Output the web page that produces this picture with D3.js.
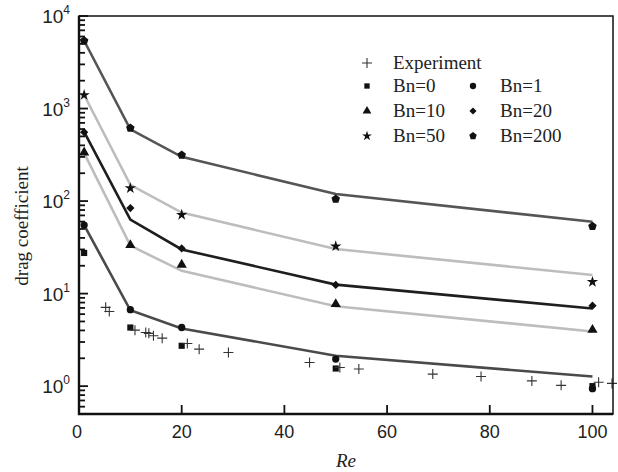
<!DOCTYPE html>
<html>
<head>
<meta charset="utf-8">
<script src="https://cdn.jsdelivr.net/npm/d3@7"></script>
<style>
  body { margin: 0; background: #fff; }
  svg { display: block; }
</style>
</head>
<body>
<svg id="chart"></svg>
<script>
var w = 618;
var h = 472;

// simulated Re values
var reSim = [1, 10, 20, 50, 100];

// fitted curves (lines)
var fitBn1 = [55, 6.6, 4.2, 2.13, 1.27];
var fitBn10 = [330, 33, 17.6, 7.3, 3.9];
var fitBn20 = [560, 63, 30, 12.5, 6.9];
var fitBn50 = [1400, 150, 75, 30.3, 15.9];
var fitBn200 = [5400, 595, 301, 119, 59.7];

// simulated drag coefficients (markers)
var cdBn0 = [27.5, 4.3, 2.73, 1.55, 1.0];
var cdBn1 = [55, 6.7, 4.3, 1.96, 0.94];
var cdBn10 = [335, 33.5, 20.5, 7.7, 4.06];
var cdBn20 = [555, 84, 30.8, 12.4, 7.4];
var cdBn50 = [1400, 138, 71, 32.5, 13.4];
var cdBn200 = [5400, 615, 314, 105, 53.3];

// experiment
var expRe = [5.2, 5.9, 10.9, 13.0, 13.6, 14.5, 16.2, 21.1, 23.4, 29.1, 44.9, 50.8, 54.5, 68.9, 78.3, 88.2, 93.9, 101.2, 103.8];
var expCd = [7.1, 6.4, 4.03, 3.8, 3.72, 3.5, 3.3, 2.89, 2.51, 2.31, 1.80, 1.59, 1.53, 1.35, 1.27, 1.14, 1.02, 1.10, 1.07];

var seriesNames = ['Bn=0', 'Bn=1', 'Bn=10', 'Bn=20', 'Bn=50', 'Bn=200'];
var xTicks = [0, 20, 40, 60, 80, 100];
var yExps = [0, 1, 2, 3, 4];

var pentagon = {
  draw: function (ctx, size) {
    var r = Math.sqrt(size / 2.38);
    for (var i = 0; i < 5; i++) {
      var a = -Math.PI / 2 + i * 2 * Math.PI / 5;
      if (i === 0) ctx.moveTo(r * Math.cos(a), r * Math.sin(a));
      else ctx.lineTo(r * Math.cos(a), r * Math.sin(a));
    }
    ctx.closePath();
  }
};

var markers = [
  {name: seriesNames[0], vals: cdBn0, type: d3.symbolSquare, size: 38, rot: 0},
  {name: seriesNames[1], vals: cdBn1, type: d3.symbolCircle, size: 42, rot: 0},
  {name: seriesNames[2], vals: cdBn10, type: d3.symbolTriangle, size: 45, rot: 0},
  {name: seriesNames[3], vals: cdBn20, type: d3.symbolSquare, size: 34, rot: 45},
  {name: seriesNames[4], vals: cdBn50, type: d3.symbolStar, size: 40, rot: 0},
  {name: seriesNames[5], vals: cdBn200, type: pentagon, size: 48, rot: 0}
];

var lines = [
  {vals: fitBn1, color: '#4a4a4a'},
  {vals: fitBn10, color: '#bdbdbd'},
  {vals: fitBn20, color: '#1e1e1e'},
  {vals: fitBn50, color: '#bdbdbd'},
  {vals: fitBn200, color: '#555555'}
];

var pL = 79, pR = 613, pT = 16, pB = 414;

var x = d3.scaleLinear().domain([0, 104]).range([pL, pR]);
var y = d3.scaleLog().domain([0.5, 10000]).range([pB, pT]);

var svg = d3.select('#chart').attr('width', w).attr('height', h);

// Lines
var line = d3.line()
  .x(function (d, i) { return x(reSim[i]); })
  .y(function (d) { return y(d); });

svg.selectAll('path.fit')
  .data(lines)
  .enter()
  .append('path')
  .attr('class', 'fit')
  .attr('d', function (d) { return line(d.vals); })
  .attr('fill', 'none')
  .attr('stroke', function (d) { return d.color; })
  .attr('stroke-width', 2.6);

// Markers
markers.forEach(function (m) {
  svg.selectAll(null)
    .data(m.vals)
    .enter()
    .append('path')
    .attr('d', d3.symbol().type(m.type).size(m.size))
    .attr('transform', function (d, i) {
      return 'translate(' + x(reSim[i]) + ',' + y(d) + ') rotate(' + m.rot + ')';
    })
    .attr('fill', '#111');
});

// Experiment crosses
var cross = 'M-5,0H5M0,-5V5';
svg.selectAll('path.exp')
  .data(expCd)
  .enter()
  .append('path')
  .attr('class', 'exp')
  .attr('d', cross)
  .attr('transform', function (d, i) {
    return 'translate(' + x(expRe[i]) + ',' + y(d) + ')';
  })
  .attr('stroke', '#333')
  .attr('stroke-width', 1.1)
  .attr('fill', 'none');

// Frame
svg.append('rect')
  .attr('x', pL).attr('y', pT)
  .attr('width', pR - pL).attr('height', pB - pT)
  .attr('fill', 'none').attr('stroke', '#111').attr('stroke-width', 1.5);
svg.append('path')
  .attr('d', 'M' + pL + ',' + pT + 'V' + pB + 'H' + pR)
  .attr('fill', 'none').attr('stroke', '#111').attr('stroke-width', 2.4);

// Y ticks (inside)
var yTickVals = [];
[0.5, 0.6, 0.7, 0.8, 0.9].forEach(function (v) { yTickVals.push({v: v, major: false}); });
yExps.forEach(function (e) {
  var base = Math.pow(10, e);
  yTickVals.push({v: base, major: true});
  if (e < 4) {
    for (var k = 2; k <= 9; k++) yTickVals.push({v: k * base, major: false});
  }
});
svg.selectAll('line.ytick')
  .data(yTickVals)
  .enter()
  .append('line')
  .attr('x1', pL)
  .attr('x2', function (d) { return pL + (d.major ? 9 : 6); })
  .attr('y1', function (d) { return y(d.v); })
  .attr('y2', function (d) { return y(d.v); })
  .attr('stroke', '#111')
  .attr('stroke-width', 1.8);

// Y tick labels
var yl = svg.selectAll('text.ylab')
  .data(yExps)
  .enter()
  .append('text')
  .attr('x', 70)
  .attr('y', function (d) { return y(Math.pow(10, d)) + 7; })
  .attr('text-anchor', 'end')
  .attr('font-family', 'Liberation Sans, Arial, sans-serif')
  .attr('font-size', '19px')
  .attr('fill', '#222');
yl.append('tspan').text('10');
yl.append('tspan')
  .attr('dy', -9)
  .attr('font-size', '12px')
  .text(function (d) { return d; });

// X ticks (inside)
svg.selectAll('line.xtick')
  .data(xTicks.slice(1))
  .enter()
  .append('line')
  .attr('x1', function (d) { return x(d); })
  .attr('x2', function (d) { return x(d); })
  .attr('y1', pB)
  .attr('y2', pB - 9)
  .attr('stroke', '#111')
  .attr('stroke-width', 1.8);

svg.selectAll('text.xlab')
  .data(xTicks)
  .enter()
  .append('text')
  .attr('x', function (d) { return x(d) - (d === 0 ? 2 : 0); })
  .attr('y', 438)
  .attr('text-anchor', 'middle')
  .attr('font-family', 'Liberation Sans, Arial, sans-serif')
  .attr('font-size', '18px')
  .attr('fill', '#222')
  .text(function (d) { return d; });

// Axis titles
svg.append('text')
  .attr('x', (pL + pR) / 2)
  .attr('y', 467)
  .attr('text-anchor', 'middle')
  .attr('font-family', 'Liberation Serif, Times New Roman, serif')
  .attr('font-style', 'italic')
  .attr('font-size', '19px')
  .attr('fill', '#222')
  .text('Re');

svg.append('text')
  .attr('transform', 'translate(28,226) rotate(-90)')
  .attr('text-anchor', 'middle')
  .attr('font-family', 'Liberation Serif, Times New Roman, serif')
  .attr('font-size', '19px')
  .attr('fill', '#222')
  .text('drag coefficient');

// Legend
var lg = svg.append('g');
var rowY = [63, 86, 111, 136];
lg.append('path')
  .attr('d', cross)
  .attr('transform', 'translate(367,' + rowY[0] + ')')
  .attr('stroke', '#333').attr('stroke-width', 1.1);
lg.append('text')
  .attr('x', 393).attr('y', rowY[0] + 6)
  .attr('font-family', 'Liberation Serif, Times New Roman, serif')
  .attr('font-size', '19px').attr('fill', '#222')
  .text('Experiment');

markers.forEach(function (m, i) {
  var col = i % 2, row = Math.floor(i / 2) + 1;
  var mx = col === 0 ? 367 : 473;
  var tx = col === 0 ? 393 : 500;
  lg.append('path')
    .attr('d', d3.symbol().type(m.type).size(m.size * 0.75))
    .attr('transform', 'translate(' + mx + ',' + rowY[row] + ') rotate(' + m.rot + ')')
    .attr('fill', '#111');
  lg.append('text')
    .attr('x', tx).attr('y', rowY[row] + 6)
    .attr('font-family', 'Liberation Serif, Times New Roman, serif')
    .attr('font-size', '19px').attr('fill', '#222')
    .text(m.name);
});
</script>
</body>
</html>
